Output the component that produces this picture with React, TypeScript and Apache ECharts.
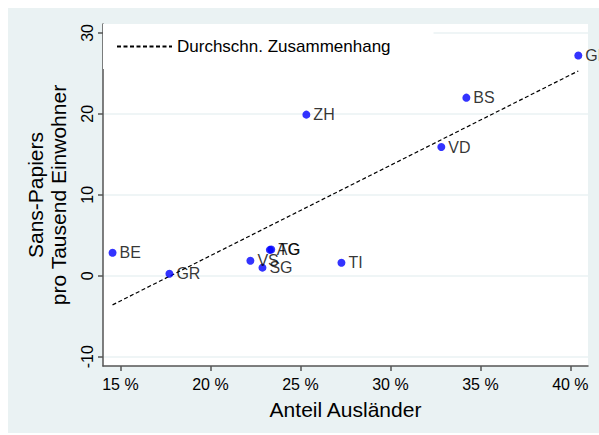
import React, { useEffect, useRef } from "react";
import * as echarts from "echarts";

const cantons = ["GE", "BS", "ZH", "VD", "BE", "GR", "VS", "SG", "AG", "TG", "TI"];
const auslaenderAnteil = [40.44, 34.22, 25.33, 32.83, 14.56, 17.72, 22.22, 22.89, 23.3, 23.38, 27.28];
const sansPapiers = [27.2, 22.0, 19.9, 15.9, 2.85, 0.25, 1.85, 1.0, 3.2, 3.25, 1.6];
const fitX = [14.56, 40.44];
const fitY = [-3.6, 25.3];
const xTicks = [15, 20, 25, 30, 35, 40];
const yTicks = [-10, 0, 10, 20, 30];

const FONT = "Liberation Sans, Arial, sans-serif";

export default function App() {
  const ref = useRef<HTMLDivElement>(null);
  useEffect(() => {
    if (!ref.current) return;
    const chart = echarts.init(ref.current, undefined, { renderer: "svg" });
    const points = cantons.map((c, i) => ({ value: [auslaenderAnteil[i], sansPapiers[i]], name: c }));
    const fit = fitX.map((x, i) => [x, fitY[i]]);
    chart.setOption({
      animation: false,
      backgroundColor: "#EAF2F3",
      textStyle: { fontFamily: FONT },
      grid: {
        left: 95,
        top: 16,
        right: 11,
        bottom: 67,
        show: true,
        backgroundColor: "#ffffff",
        borderWidth: 0,
      },
      legend: {
        show: true,
        data: ["Durchschn. Zusammenhang"],
        left: 95,
        top: 16,
        orient: "horizontal",
        backgroundColor: "#ffffff",
        padding: [14, 43, 14, 13],
        itemWidth: 55,
        itemHeight: 14,
        itemGap: 10,
        itemStyle: { opacity: 0 },
        textStyle: { fontFamily: FONT, fontSize: 17, color: "#000" },
      },
      xAxis: {
        type: "value",
        min: 14.03,
        max: 40.98,
        name: "Anteil Ausländer",
        nameLocation: "middle",
        nameGap: 33,
        nameTextStyle: { fontFamily: FONT, fontSize: 21, color: "#000" },
        axisLine: { show: true, onZero: false, lineStyle: { color: "#555", width: 1.5 } },
        axisTick: { show: true, length: 5, customValues: xTicks, lineStyle: { color: "#555", width: 1.5 } },
        axisLabel: {
          customValues: xTicks,
          formatter: (v: number) => v + " %",
          fontFamily: FONT,
          fontSize: 16,
          color: "#000",
          margin: 10,
        },
        splitLine: { show: false },
      },
      yAxis: {
        type: "value",
        min: -11.15,
        max: 31.1,
        name: "Sans-Papiers\npro Tausend Einwohner",
        nameLocation: "middle",
        nameGap: 33,
        nameTextStyle: { fontFamily: FONT, fontSize: 21, color: "#000", lineHeight: 23 },
        axisLine: { show: true, onZero: false, lineStyle: { color: "#555", width: 1.5 } },
        axisTick: { show: true, length: 5, customValues: yTicks, lineStyle: { color: "#555", width: 1.5 } },
        axisLabel: {
          customValues: yTicks,
          rotate: 90,
          fontFamily: FONT,
          fontSize: 16,
          color: "#000",
          margin: 8,
        },
        splitLine: { show: true, lineStyle: { color: "#EAF2F3", width: 1.5 } },
      },
      series: [
        {
          name: "Durchschn. Zusammenhang",
          type: "line",
          data: fit,
          symbol: "none",
          lineStyle: { color: "#000", width: 1.2, type: [4, 2.5] },
          itemStyle: { color: "#000" },
          z: 2,
        },
        {
          name: "Kantone",
          type: "scatter",
          data: points,
          symbol: "circle",
          symbolSize: 8,
          itemStyle: { color: "#0000ff" },
          label: {
            show: true,
            position: "right",
            distance: 3,
            formatter: (p: any) => p.name,
            fontFamily: FONT,
            fontSize: 16,
            color: "#000",
          },
          z: 3,
        },
      ],
    });
    return () => chart.dispose();
  }, []);
  return (
    <div
      ref={ref}
      style={{ position: "absolute", left: 8, top: 8, width: 591, height: 425 }}
    />
  );
}
